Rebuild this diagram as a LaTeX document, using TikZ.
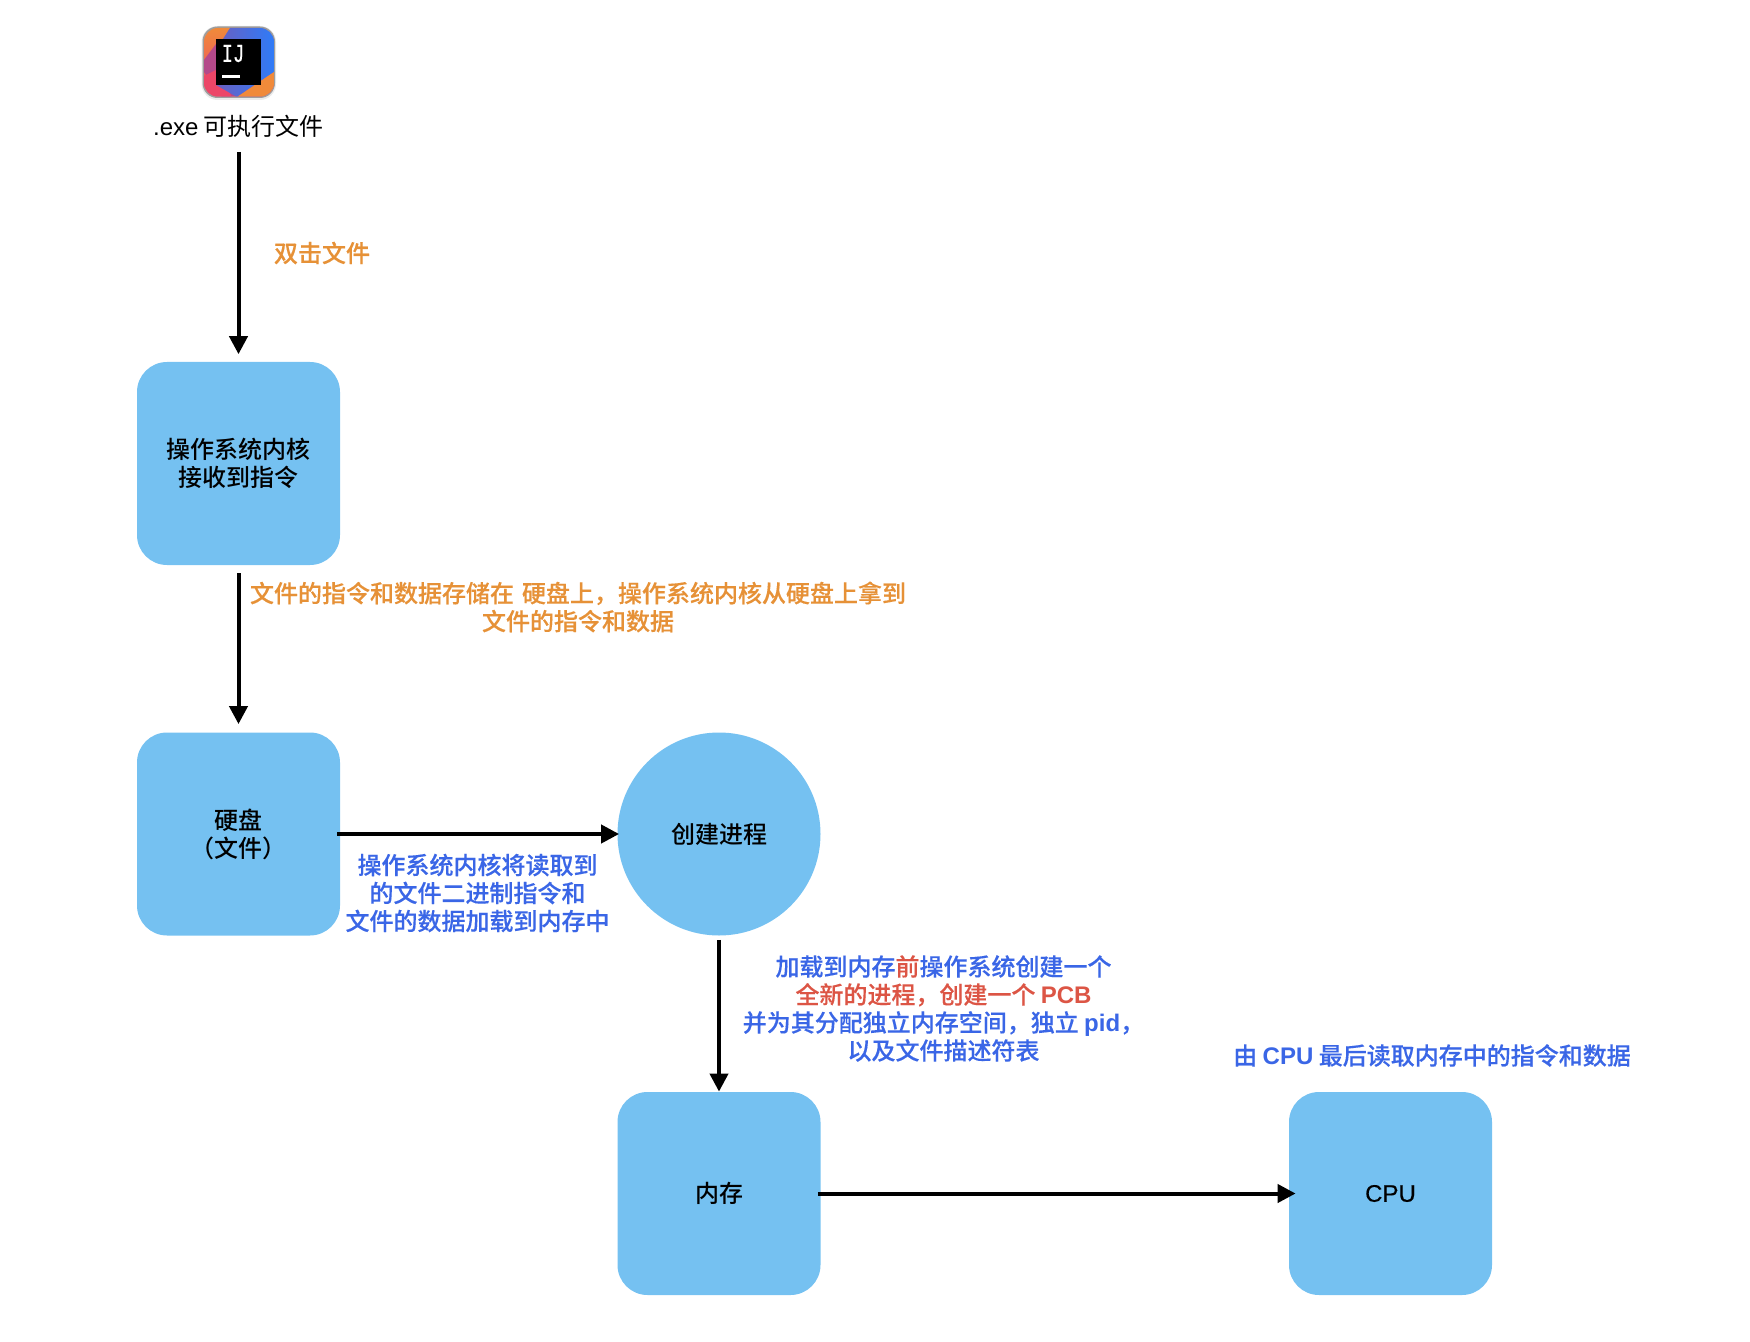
\documentclass[tikz,border=0pt]{standalone}
\usepackage{fontspec}
\usetikzlibrary{arrows.meta}
\setmainfont{Noto Sans CJK SC}[BoldFont={Noto Sans CJK SC Medium}]
\newfontfamily\semib{Noto Sans CJK SC Medium}[FakeBold=0.25]
\newfontfamily\latf{Liberation Sans}
\newfontfamily\latm{Liberation Sans}[FakeBold=0.2]
\newfontfamily\monof{Liberation Mono}[FakeBold=0.3]
\newcommand\lat[1]{{\latf #1}}
\newcommand\latb[1]{{\latf\bfseries #1}}
\newcommand\dn[1]{\raisebox{-0.5pt}{#1}}
\definecolor{boxblue}{HTML}{75C1F1}
\definecolor{lblorange}{HTML}{E69137}
\definecolor{lblblue}{HTML}{3A66E6}
\definecolor{lblred}{HTML}{DC5545}
\definecolor{icorange}{HTML}{F08A3A}
\definecolor{icpink}{HTML}{EC4668}
\definecolor{icpurple}{HTML}{B4498A}
\definecolor{icblue}{HTML}{2F7BF8}
\definecolor{icviolet}{HTML}{6A5FC0}
\tikzset{
  boxnode/.style={draw=none,fill=boxblue,rounded corners=15pt,minimum size=101.5pt,inner sep=0pt,align=center,font=\fontsize{12}{14}\selectfont\bfseries},
  circnode/.style={draw=none,fill=boxblue,circle,minimum size=101.5pt,inner sep=0pt,align=center,font=\fontsize{12}{14}\selectfont\bfseries},
  lbl/.style={inner sep=0pt,align=center,font=\fontsize{12}{14}\selectfont\semib},
  conn/.style={line width=2pt,-{Triangle[length=9pt,width=9pt]}},
}
\begin{document}
\begin{tikzpicture}[x=0.5pt,y=-0.5pt]
\useasboundingbox (0,0) rectangle (1750,1342);
% icon
\fill[black!8,rounded corners=8pt] (201.5,26) rectangle (276,100);
\fill[black!38,rounded corners=7.5pt] (202.5,26.5) rectangle (275,98);
\begin{scope}
\clip[rounded corners=7pt] (204,28) rectangle (274,96.5);
\shade[top color=icorange,bottom color=icpink] (204,28) rectangle (274,97);
\fill[icpurple] (204,72) -- (204,60) -- (216,44) -- (262,85) -- (237,97) -- (222,97) -- cycle;
\fill[icpink] (204,76) -- (204,97) -- (232,97) -- (216,70) -- cycle;
\shade[left color=icviolet,right color=icblue] (230,28) -- (274,28) -- (274,72) -- (237,97) -- (216,85) -- (216,50) -- cycle;
\fill[icorange] (274,72) -- (274,97) -- (237,97) -- cycle;
\end{scope}
\fill[black] (216,39) rectangle (261,85);
\node[inner sep=0pt,text=white,font=\fontsize{13}{13}\selectfont\monof,xscale=0.72,transform shape] (ij) at (233,53.5) {IJ};
\fill[white] (222,75) rectangle (240,78);
\node[inner sep=0pt,align=center,font=\fontsize{12}{14}\selectfont] (exe) at (238.5,126) {\lat{.exe} 可执行文件};
% boxes
\node[boxnode] (kernel) at (238.5,463.5) {\dn{操作系统内核}\\\dn{接收到指令}};
\node[boxnode] (disk) at (238.5,834) {\dn{硬盘}\\\dn{（文件）}};
\node[circnode] (proc) at (719,834) {\dn{创建进程}};
\node[boxnode] (mem) at (719,1193.5) {\dn{内存}};
\node[boxnode] (cpu) at (1390.5,1193.5) {\dn{{\mdseries\latm CPU}}};
% connectors
\draw[conn,shorten <=7.2pt,shorten >=3.7pt] (exe.south) -- (kernel.north);
\draw[conn,shorten <=4pt,shorten >=4pt] (kernel.south) -- (disk.north);
\draw[conn,shorten <=-1.5pt,shorten >=-1pt] (disk.east) -- (proc.west);
\draw[conn,shorten <=2pt] (proc.south) -- (mem.north);
\draw[conn,shorten <=-1.5pt,shorten >=-3.5pt] (mem.east) -- (cpu.west);
% labels
\node[lbl,text=lblorange] (l1) at (322,253) {双击文件};
\node[lbl,text=lblorange] (l2) at (578,607) {文件的指令和数据存储在\hspace{4pt}硬盘上，操作系统内核从硬盘上拿到\\文件的指令和数据};
\node[lbl,text=lblblue] (l3) at (477.5,893) {操作系统内核将读取到\\的文件二进制指令和\\文件的数据加载到内存中};
\node[lbl,text=lblblue] (l4) at (943.5,1008.5) {加载到内存\textcolor{lblred}{前}操作系统创建一个\\\textcolor{lblred}{全新的进程，创建一个 \latb{PCB}}\\并为其分配独立内存空间，独立 \latb{pid}，\\以及文件描述符表};
\node[lbl,text=lblblue] (l5) at (1432,1055.5) {由 \latb{CPU} 最后读取内存中的指令和数据};
\end{tikzpicture}
\end{document}
